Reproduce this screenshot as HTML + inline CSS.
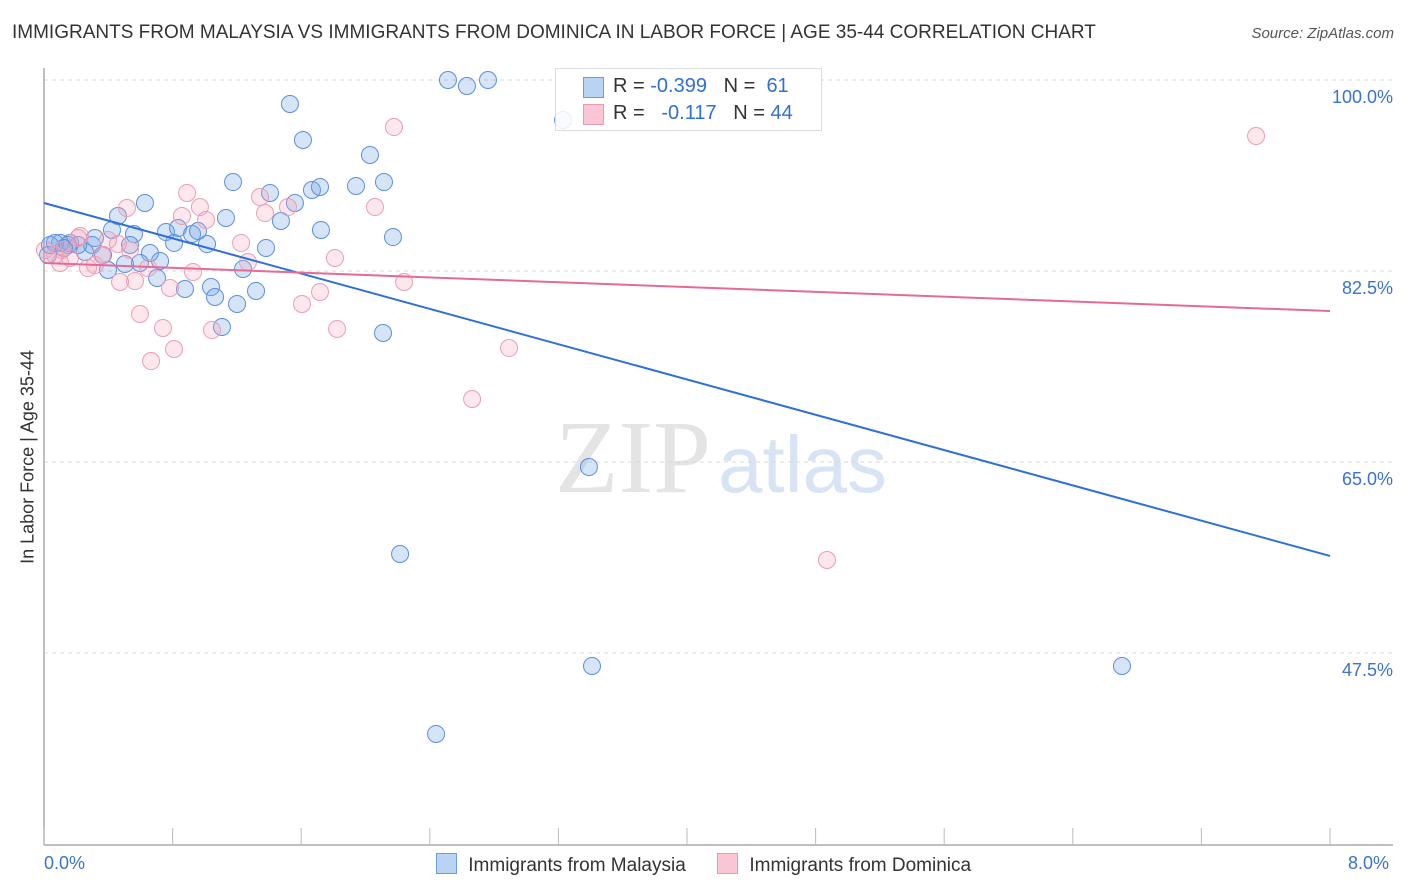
<!DOCTYPE html>
<html><head><meta charset="utf-8">
<style>
body{margin:0;background:#fff;font-family:"Liberation Sans",sans-serif;}
#wrap{position:relative;width:1406px;height:892px;overflow:hidden;}
.t{position:absolute;white-space:nowrap;}
</style></head>
<body>
<div id="wrap">
<div class="t" style="left:12px;top:22px;font-size:19px;color:#333;">IMMIGRANTS FROM MALAYSIA VS IMMIGRANTS FROM DOMINICA IN LABOR FORCE | AGE 35-44 CORRELATION CHART</div>
<div class="t" style="right:12px;top:25px;font-size:15px;color:#555;font-style:italic;">Source: ZipAtlas.com</div>
<div class="t" style="left:28px;top:457px;font-size:18px;color:#333;transform:translate(-50%,-50%) rotate(-90deg);">In Labor Force | Age 35-44</div>
<svg id="chart" width="1406" height="892" style="position:absolute;left:0;top:0">
<text x="555" y="492" font-family="Liberation Serif" font-size="104" fill="#e4e4e4">ZIP</text>
<text x="718" y="492" font-family="Liberation Sans" font-size="80" fill="#d8e4f4">atlas</text>
<g id="grid"></g><g id="pts"></g><g id="lines"></g>
</svg>
<div style="position:absolute;left:555px;top:68px;width:265px;height:61px;border:1px solid #ddd;background:rgba(255,255,255,0.85);font-size:20px;">
 <div style="position:absolute;left:27px;top:8px;width:19px;height:19px;background:#b9d3f5;border:1px solid #6a9de0;"></div>
 <div class="t" style="left:57px;top:6px;color:#333;">R = <span style="color:#2f6fd6">-0.399</span>&nbsp;&nbsp;&nbsp;N = &nbsp;<span style="color:#2f6fd6">61</span></div>
 <div style="position:absolute;left:27px;top:35px;width:19px;height:19px;background:#fac6d5;border:1px solid #e99ab2;"></div>
 <div class="t" style="left:57px;top:33px;color:#333;">R = &nbsp;&nbsp;<span style="color:#2f6fd6">-0.117</span>&nbsp;&nbsp;&nbsp;N = <span style="color:#2f6fd6">44</span></div>
</div>
<div class="t" style="left:44px;top:853px;font-size:18px;color:#3a72d0;">0.0%</div>
<div class="t" style="left:1348px;top:853px;font-size:18px;color:#3a72d0;">8.0%</div>
<div style="position:absolute;left:436px;top:853px;font-size:19px;color:#333;">
 <span style="display:inline-block;width:19px;height:19px;background:#b9d3f5;border:1px solid #6a9de0;vertical-align:-3px"></span>
 <span style="margin-left:6px">Immigrants from Malaysia</span>
 <span style="display:inline-block;width:19px;height:19px;background:#fac6d5;border:1px solid #e99ab2;vertical-align:-3px;margin-left:26px"></span>
 <span style="margin-left:6px">Immigrants from Dominica</span>
</div>
</div>
<script>
const yTicks=[100,82.5,65,47.5];
const yTickLabels=["100.0%","82.5%","65.0%","47.5%"];
const xTicks=[0,0.8,1.6,2.4,3.2,4,4.8,5.6,6.4,7.2,8];
const malaysiaPx=[[448,80],[467,86],[488,80],[563,120],[290,104],[303,140],[370,155],[233,182],[270,193],[312,190],[320,187],[356,186],[384,182],[145,203],[118,216],[226,218],[281,221],[295,203],[321,230],[393,237],[112,230],[134,234],[166,232],[178,228],[192,234],[198,231],[207,244],[266,248],[130,245],[150,253],[174,243],[95,238],[92,245],[70,243],[60,243],[50,245],[55,243],[68,245],[108,270],[125,264],[140,263],[157,278],[160,261],[185,289],[211,287],[215,297],[237,304],[256,291],[243,269],[222,327],[383,333],[589,467],[400,554],[592,666],[1122,666],[436,734],[48,255],[85,252],[103,255],[78,245],[64,248]];
const dominicaPx=[[394,127],[1256,136],[187,193],[260,197],[127,208],[200,207],[182,216],[206,220],[265,213],[288,207],[375,207],[241,243],[80,236],[108,240],[118,244],[102,255],[148,268],[193,272],[248,262],[335,258],[404,282],[320,292],[302,304],[120,282],[135,281],[170,288],[140,314],[163,328],[212,330],[337,329],[174,349],[151,361],[509,348],[472,399],[827,560],[60,263],[88,268],[55,255],[70,258],[45,250],[62,250],[78,238],[130,250],[95,265]];
const malaysiaX=malaysiaPx.map(p=>+((p[0]-44)/160.75).toFixed(3));
const malaysiaY=malaysiaPx.map(p=>+(100-(p[1]-80)/10.914).toFixed(2));
const dominicaX=dominicaPx.map(p=>+((p[0]-44)/160.75).toFixed(3));
const dominicaY=dominicaPx.map(p=>+(100-(p[1]-80)/10.914).toFixed(2));
const trendX=[0,8];
const malaysiaTrend=[88.73,56.39];
const dominicaTrend=[83.23,78.83];

const X0=44,X1=1330,Y100=80,PPY=10.914;
const sx=v=>X0+(X1-X0)*v/8;
const sy=v=>Y100+(100-v)*PPY;
const NS="http://www.w3.org/2000/svg";
function mk(tag,attrs,parent){const e=document.createElementNS(NS,tag);for(const k in attrs)e.setAttribute(k,attrs[k]);parent.appendChild(e);return e;}
const grid=document.getElementById('grid');
yTicks.forEach((t,i)=>{
 const l=mk('line',{x1:X0,x2:1393,y1:sy(t),y2:sy(t),stroke:'#d8d8d8','stroke-dasharray':'4,4'},grid);
 
 
 const tx=mk('text',{x:1393,y:sy(t)+23,'text-anchor':'end','font-size':18,fill:'#3a72d0','font-family':'Liberation Sans'},grid);
 tx.textContent=yTickLabels[i];
 
 
});
const ax=mk('line',{x1:X0,x2:X0,y1:68,y2:845,stroke:'#aaa','stroke-width':1.5},grid);


const bx=mk('line',{x1:X0,x2:1393,y1:845,y2:845,stroke:'#aaa','stroke-width':1.5},grid);


xTicks.forEach(t=>{
 const l=mk('line',{x1:sx(t),x2:sx(t),y1:828,y2:845,stroke:'#bbb'},grid);
 
 
});
const pts=document.getElementById('pts');
malaysiaX.forEach((x,i)=>{
 const c=mk('circle',{cx:sx(x),cy:sy(malaysiaY[i]),r:8.5,fill:'rgba(120,165,230,0.3)',stroke:'#5b8fde','stroke-width':1},pts);
 
 
});
dominicaX.forEach((x,i)=>{
 const c=mk('circle',{cx:sx(x),cy:sy(dominicaY[i]),r:8.5,fill:'rgba(245,160,185,0.25)',stroke:'#eb9db5','stroke-width':1},pts);
 
 
});
const lines=document.getElementById('lines');
const bl=mk('line',{x1:sx(trendX[0]),y1:sy(malaysiaTrend[0]),x2:sx(trendX[1]),y2:sy(malaysiaTrend[1]),stroke:'#2f6fd6','stroke-width':2},lines);


const pl=mk('line',{x1:sx(trendX[0]),y1:sy(dominicaTrend[0]),x2:sx(trendX[1]),y2:sy(dominicaTrend[1]),stroke:'#e56b94','stroke-width':2},lines);


</script>
</body></html>
